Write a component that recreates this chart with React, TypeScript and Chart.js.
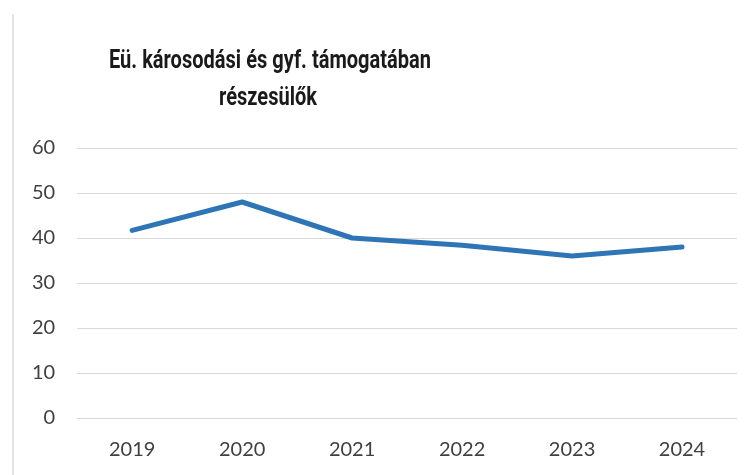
import React, { useEffect, useRef } from "react";
import { Chart, registerables } from "chart.js";

Chart.register(...registerables);

const titleLines = ["Eü. károsodási és gyf. támogatában", "részesülők"];
const years = ["2019", "2020", "2021", "2022", "2023", "2024"];
const values = [41.7, 48, 40, 38.4, 36, 38];
const yTicks = [0, 10, 20, 30, 40, 50, 60];

const titlePlugin = {
  id: "offsetTitle",
  afterDraw(chart: any) {
    const ctx = chart.ctx as CanvasRenderingContext2D;
    ctx.save();
    ctx.font = "bold 25px Roboto";
    const w = ctx.measureText(titleLines[0]).width;
    const sx = Math.min(1, 322 / w);
    ctx.fillStyle = "#1a1a1a";
    ctx.textAlign = "center";
    ctx.textBaseline = "alphabetic";
    ctx.translate(270, 0);
    ctx.scale(sx, 1);
    ctx.fillText(titleLines[0], 0, 68);
    ctx.fillText(titleLines[1], -2 / sx, 105);
    ctx.restore();
  },
};

export default function App() {
  const ref = useRef<HTMLCanvasElement>(null);
  useEffect(() => {
    document.body.style.margin = "0";
    const chart = new Chart(ref.current!, {
      type: "line",
      data: {
        labels: years,
        datasets: [
          {
            data: values,
            borderColor: "#2f75b5",
            borderWidth: 5,
            pointRadius: 0,
            tension: 0,
            borderCapStyle: "round",
            borderJoinStyle: "round",
          },
        ],
      },
      options: {
        animation: false,
        responsive: false,
        layout: { padding: { left: 10, right: 18, top: 148, bottom: 13 } },
        plugins: { legend: { display: false }, title: { display: false }, tooltip: { enabled: false } },
        scales: {
          x: {
            offset: true,
            grid: { display: false, drawTicks: false },
            border: { display: false },
            ticks: { color: "#404040", font: { family: "Lato", size: 20 }, padding: 20, maxRotation: 0 },
            afterFit: (s: any) => {
              s.height = 44;
            },
          },
          y: {
            min: 0,
            max: 60,
            afterBuildTicks: (s: any) => {
              s.ticks = yTicks.map((v) => ({ value: v }));
            },
            afterFit: (s: any) => {
              s.paddingTop = 8;
              s.paddingBottom = 8;
            },
            grid: { color: "#d9d9d9", lineWidth: 1, drawTicks: false },
            border: { display: false },
            ticks: { color: "#404040", font: { family: "Lato", size: 20 }, padding: 22 },
          },
        },
      },
      plugins: [titlePlugin],
    });
    return () => chart.destroy();
  }, []);
  return (
    <div style={{ position: "absolute", left: 0, top: 0, width: 755, height: 475, background: "#fff" }}>
      <div style={{ position: "absolute", left: 12, top: 14, width: 0, height: 461, borderLeft: "2px solid #e4e4e4" }} />
      <canvas ref={ref} width={755} height={475} style={{ position: "absolute", left: 0, top: 0 }} />
    </div>
  );
}
